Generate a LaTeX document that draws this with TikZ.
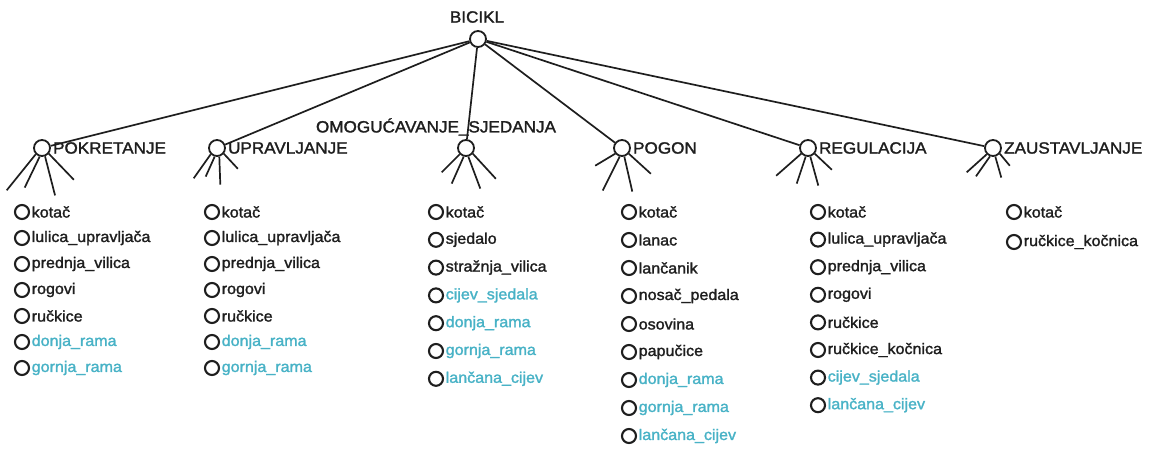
\documentclass[tikz,border=0pt]{standalone}
\usepackage{fontspec}
\setmainfont{Liberation Sans}[FakeStretch=1.05, FakeBold=1.6]
\definecolor{ink}{RGB}{30,30,30}
\definecolor{itemcyan}{RGB}{72,178,198}
\begin{document}
\begin{tikzpicture}[x=1pt,y=-1pt,
  hub/.style={circle,draw=ink,line width=1.8pt,minimum size=16pt,inner sep=0pt},
  bullet/.style={circle,draw=ink,line width=2.1pt,minimum size=14pt,inner sep=0pt},
  itemtext/.style={anchor=west,inner sep=0pt,font=\fontsize{15.3}{17}\selectfont,text=ink},
  hdr/.style={inner sep=0pt,font=\fontsize{16.3}{18}\selectfont,text=ink},
  edge/.style={draw=ink,line width=1.7pt},
  leg/.style={draw=ink,line width=1.7pt}]
\useasboundingbox (0,0) rectangle (1171,461);

% root
\node[hub] (root) at (478,39) {};
\node[hdr] (rootlbl) at (477,17) {BICIKL};

% children
\node[hub] (p1) at (42,148) {};
\node[hub] (p2) at (217,148) {};
\node[hub] (p3) at (466,148) {};
\node[hub] (p4) at (622,148) {};
\node[hub] (p5) at (808,148) {};
\node[hub] (p6) at (993,148) {};

\node[hdr,anchor=west] (l1) at ([xshift=2pt]p1.east) {POKRETANJE};
\node[hdr,anchor=west] (l2) at ([xshift=2pt]p2.east) {UPRAVLJANJE};
\node[hdr] (l3) at (436,127) {OMOGUĆAVANJE\_SJEDANJA};
\node[hdr,anchor=west] (l4) at ([xshift=2pt]p4.east) {POGON};
\node[hdr,anchor=west] (l5) at ([xshift=2pt]p5.east) {REGULACIJA};
\node[hdr,anchor=west] (l6) at ([xshift=2pt]p6.east) {ZAUSTAVLJANJE};

\foreach \n in {p1,p2,p3,p4,p5,p6} \draw[edge] (root) -- (\n);

% legs
\draw[leg] (p1.225) -- ++(-29,36);
\draw[leg] (p1.255) -- ++(-15,31);
\draw[leg] (p1.290) -- ++(10,39);
\draw[leg] (p1.320) -- ++(25,26);

\draw[leg] (p2.225) -- ++(-17,24);
\draw[leg] (p2.255) -- ++(-9,20);
\draw[leg] (p2.285) -- ++(1,28);
\draw[leg] (p2.320) -- ++(14,15);

\draw[leg] (p3.225) -- ++(-18,18);
\draw[leg] (p3.255) -- ++(-12,27);
\draw[leg] (p3.285) -- ++(12,32);
\draw[leg] (p3.320) -- ++(23,25);

\draw[leg] (p4.220) -- ++(-20,12);
\draw[leg] (p4.255) -- ++(-17,34);
\draw[leg] (p4.285) -- ++(8,35);
\draw[leg] (p4.320) -- ++(22,20);

\draw[leg] (p5.220) -- ++(-25,22);
\draw[leg] (p5.255) -- ++(-9,27);
\draw[leg] (p5.285) -- ++(8,29);
\draw[leg] (p5.320) -- ++(17,16);

\draw[leg] (p6.225) -- ++(-20,18);
\draw[leg] (p6.250) -- ++(-14,20);
\draw[leg] (p6.285) -- ++(6,21);
\draw[leg] (p6.320) -- ++(10,12);

% item columns
\foreach \t/\c [count=\i] in {kota\v{c}/ink, lulica\_upravlja\v{c}a/ink, prednja\_vilica/ink, rogovi/ink, ru\v{c}kice/ink, donja\_rama/itemcyan, gornja\_rama/itemcyan}{
  \node[bullet] (a\i) at (22,{212+(\i-1)*26}) {};
  \node[itemtext,text=\c] (at\i) at ([xshift=1.5pt]a\i.east) {\t};
}
\foreach \t/\c [count=\i] in {kota\v{c}/ink, lulica\_upravlja\v{c}a/ink, prednja\_vilica/ink, rogovi/ink, ru\v{c}kice/ink, donja\_rama/itemcyan, gornja\_rama/itemcyan}{
  \node[bullet] (b\i) at (212,{212+(\i-1)*26}) {};
  \node[itemtext,text=\c] (bt\i) at ([xshift=1.5pt]b\i.east) {\t};
}
\foreach \t/\c [count=\i] in {kota\v{c}/ink, sjedalo/ink, stra\v{z}nja\_vilica/ink, cijev\_sjedala/itemcyan, donja\_rama/itemcyan, gornja\_rama/itemcyan, lan\v{c}ana\_cijev/itemcyan}{
  \node[bullet] (c\i) at (436,{212+(\i-1)*27.8}) {};
  \node[itemtext,text=\c] (ct\i) at ([xshift=1.5pt]c\i.east) {\t};
}
\foreach \t/\c [count=\i] in {kota\v{c}/ink, lanac/ink, lan\v{c}anik/ink, nosa\v{c}\_pedala/ink, osovina/ink, papu\v{c}ice/ink, donja\_rama/itemcyan, gornja\_rama/itemcyan, lan\v{c}ana\_cijev/itemcyan}{
  \node[bullet] (d\i) at (629,{212+(\i-1)*28}) {};
  \node[itemtext,text=\c] (dt\i) at ([xshift=1.5pt]d\i.east) {\t};
}
\foreach \t/\c [count=\i] in {kota\v{c}/ink, lulica\_upravlja\v{c}a/ink, prednja\_vilica/ink, rogovi/ink, ru\v{c}kice/ink, ru\v{c}kice\_ko\v{c}nica/ink, cijev\_sjedala/itemcyan, lan\v{c}ana\_cijev/itemcyan}{
  \node[bullet] (e\i) at (818,{212+(\i-1)*27.6}) {};
  \node[itemtext,text=\c] (et\i) at ([xshift=1.5pt]e\i.east) {\t};
}
\foreach \t/\c [count=\i] in {kota\v{c}/ink, ru\v{c}kice\_ko\v{c}nica/ink}{
  \node[bullet] (f\i) at (1014,{212+(\i-1)*30}) {};
  \node[itemtext,text=\c] (ft\i) at ([xshift=1.5pt]f\i.east) {\t};
}
\end{tikzpicture}
\end{document}
